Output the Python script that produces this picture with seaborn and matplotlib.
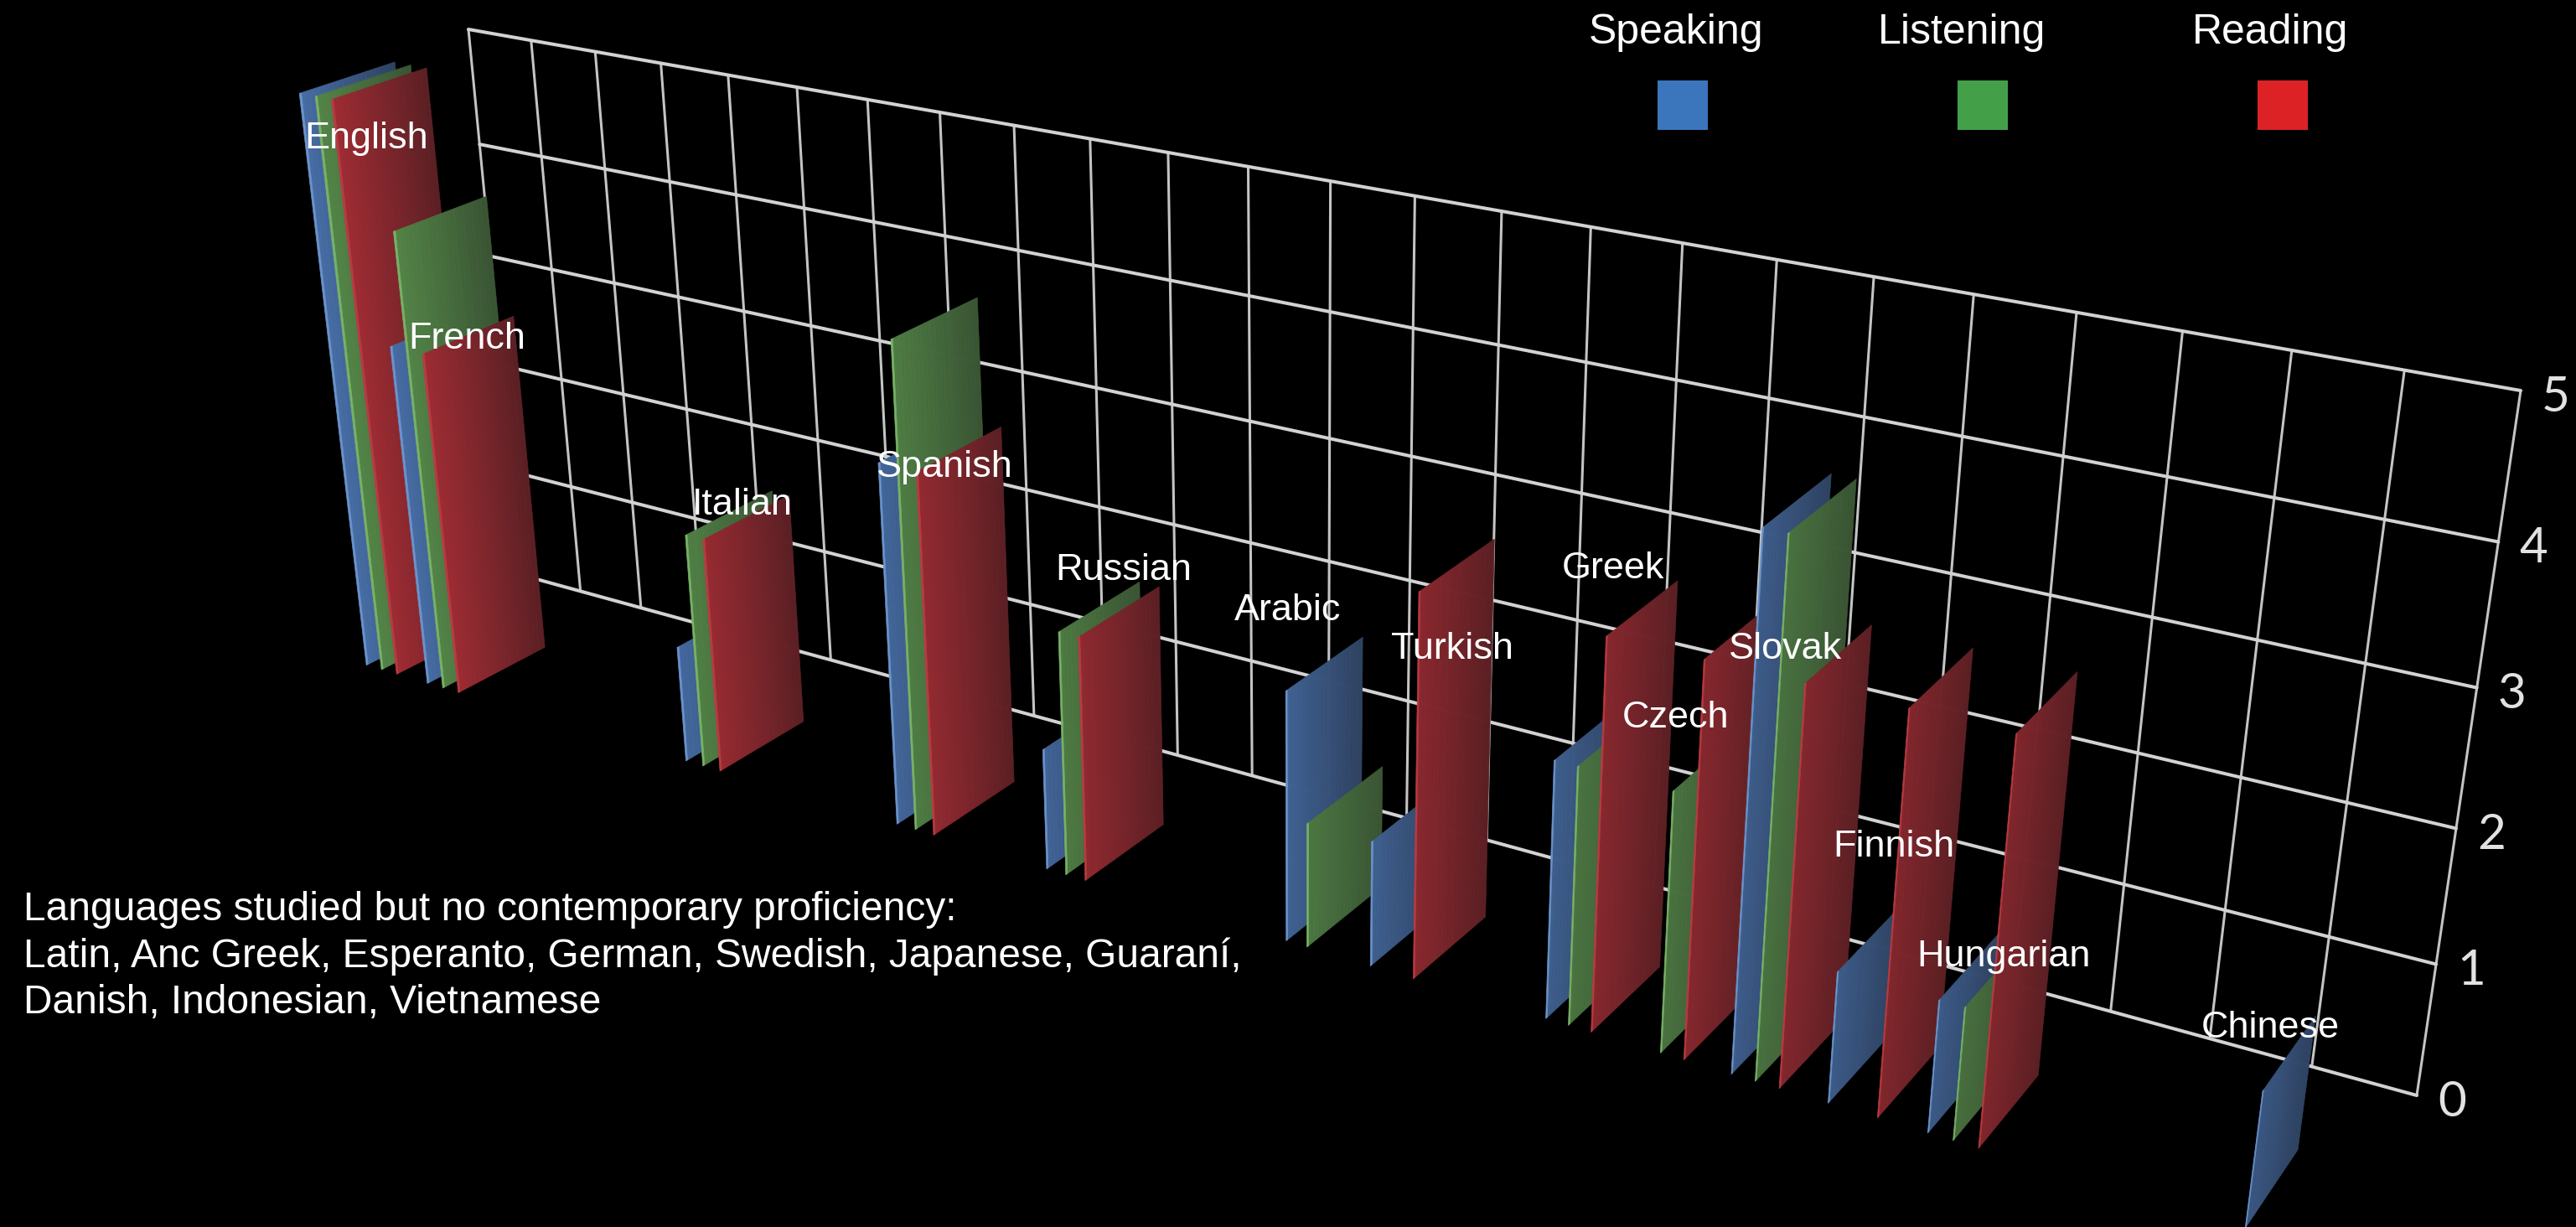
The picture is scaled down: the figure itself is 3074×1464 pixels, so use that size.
import numpy as np
import pandas as pd
import matplotlib
matplotlib.use("Agg")
import matplotlib.pyplot as plt
import seaborn as sns

# proficiency levels
languages = ["English", "French", "Italian", "Spanish", "Russian", "Arabic", "Turkish",
             "Greek", "Czech", "Slovak", "Finnish", "Hungarian", "Chinese"]
cells = [0, 1, 5, 8, 10, 13, 14, 16, 17, 18, 19, 20, 23]
speaking = [5, 3, 1, 3, 1, 2, 1, 2, 0, 4, 1, 1, 1]
listening = [5, 4, 2, 4, 2, 1, 0, 2, 2, 4, 0, 1, 0]
reading = [5, 3, 2, 3, 2, 0, 3, 3, 3, 3, 3, 3, 0]
skills = ["Speaking", "Listening", "Reading"]
levels = [0, 1, 2, 3, 4, 5]

# label centres, in pixels
label_x = [437, 557, 886, 1127, 1341, 1537, 1733, 1925, 2000, 2131, 2260, 2391, 2709]
label_y = [166, 405, 603, 558, 681, 728, 775, 679, 856, 775, 1010, 1142, 1226]
note = ("Languages studied but no contemporary proficiency:\n"
        "Latin, Anc Greek, Esperanto, German, Swedish, Japanese, Guaraní,\n"
        "Danish, Indonesian, Vietnamese")

# camera: grid column, depth, level, 1 -> screen pixels
camera = np.array([[1516.9 / 24, 4500 * -0.05, -98.37 / 5, 622],
                   [283.34 / 24, -1250 * -0.05, -653.2 / 5, 686],
                   [-0.25835 / 24, -0.05, -0.06328 / 5, 1]])


def project(x, y, z):
    p = camera @ np.array([x, y, z, 1.0])
    return p[0] / p[2], p[1] / p[2]


df = pd.DataFrame({"language": languages, "cell": cells, "Speaking": speaking,
                   "Listening": listening, "Reading": reading})
df = df.melt(id_vars=["language", "cell"], value_vars=skills, var_name="skill", value_name="level")
df["order"] = df["skill"].map({s: i for i, s in enumerate(skills)})
df = df.sort_values(["cell", "order"])

# wall grid as tidy tables
rows = []
for i in range(25):
    for z in [0, 5]:
        sx, sy = project(i, 0, z)
        rows.append({"line": i, "sx": sx, "sy": sy})
grid_v = pd.DataFrame(rows)
rows = []
for z in levels:
    for i in [0, 24]:
        sx, sy = project(i, 0, z)
        rows.append({"line": z, "sx": sx, "sy": sy})
grid_h = pd.DataFrame(rows)

sns.set_theme(style="dark", rc={"figure.facecolor": "black", "axes.facecolor": "black"})
plt.rcParams["font.family"] = ["Liberation Sans", "DejaVu Sans"]

fig = plt.figure(figsize=(30.74, 14.64), dpi=100)
ax = fig.add_axes([0, 0, 1, 1])

sns.lineplot(data=grid_v, x="sx", y="sy", units="line", estimator=None, sort=False,
             color="#c4c4c4", lw=2.2, legend=False, ax=ax, zorder=2)
sns.lineplot(data=grid_h, x="sx", y="sy", units="line", estimator=None, sort=False,
             color="#d2d2d2", lw=2.9, legend=False, ax=ax, zorder=2)

# bar colours, back of the slab to front
shades = {"Speaking": ("#2f4362", "#466ca3", "#6a94cc"),
          "Listening": ("#3a5534", "#528346", "#78b266"),
          "Reading": ("#5c2024", "#9c2b33", "#b93a42")}
offsets = {"Speaking": 0.27, "Listening": 0.52, "Reading": 0.77}
depth_edges = np.linspace(0.5, 0.99, 21)

z = 10
for _, bar in df.iterrows():
    if bar["level"] == 0:
        continue
    dark, mid, edge = shades[bar["skill"]]
    x = bar["cell"] * 1.003 + offsets[bar["skill"]]
    # bars further along the axis are a bit duller
    fade = bar["cell"] / 45
    mid = sns.blend_palette([mid, dark], n_colors=101)[int(fade * 100)]
    ramp = sns.blend_palette([dark, mid], n_colors=len(depth_edges) - 1)
    for k in range(len(depth_edges) - 1):
        y0, y1 = depth_edges[k], depth_edges[k + 1]
        pts = [project(x, y0, 0), project(x, y1, 0), project(x, y1, bar["level"]), project(x, y0, bar["level"])]
        ax.fill(*zip(*pts), color=ramp[k], lw=0.5, zorder=z)
    pts = [project(x, 0.99, 0), project(x, 1.0, 0), project(x, 1.0, bar["level"]), project(x, 0.99, bar["level"])]
    ax.fill(*zip(*pts), color=edge, lw=0.5, zorder=z)
    z += 1

# axis numbers sit just right of the wall
for lev in levels:
    sx, sy = project(24, 0, lev)
    ax.text(sx + 42, sy + 8, str(lev), color="#e2e2e2", fontsize=42, family="Lato",
            ha="center", va="center", zorder=100)

for name, lx, ly in zip(languages, label_x, label_y):
    ax.text(lx, ly, name, color="white", fontsize=32.4, ha="center", va="center", zorder=100)

ax.text(28, 1141, note, color="white", fontsize=34.5, ha="left", va="center", linespacing=1.29, zorder=100)

# legend
legend_x = [2000, 2341, 2709]
swatch_x = [2008, 2366, 2724]
swatch_colors = ["#3b76bd", "#44a048", "#dd2226"]
for name, tx, bx, col in zip(skills, legend_x, swatch_x, swatch_colors):
    ax.text(tx, 39, name, color="white", fontsize=36, ha="center", va="center", zorder=100)
    ax.fill([bx - 30, bx + 30, bx + 30, bx - 30], [96, 96, 155, 155], color=col, lw=0, zorder=100)

ax.set_xlim(0, 3074)
ax.set_ylim(1464, 0)
ax.axis("off")
fig.savefig("out.png", dpi=100, facecolor="black")
